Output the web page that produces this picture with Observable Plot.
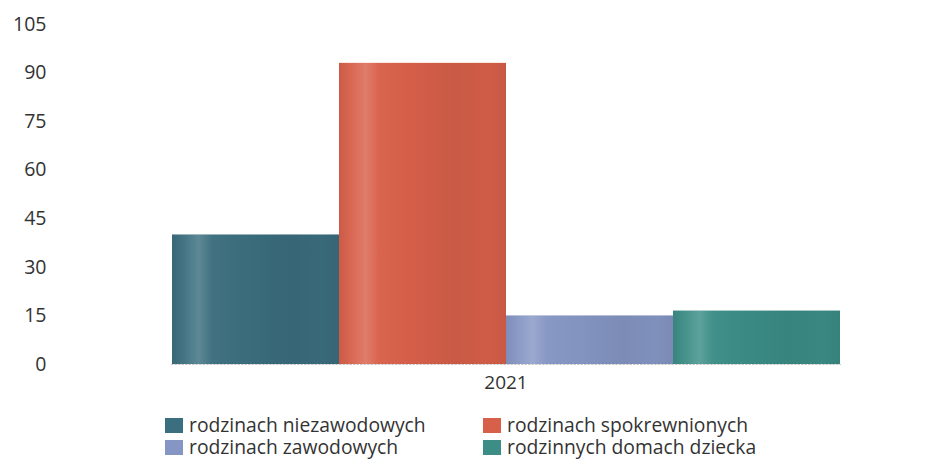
<!DOCTYPE html>
<html>
<head>
<meta charset="utf-8">
<script src="https://cdn.jsdelivr.net/npm/d3@7"></script>
<script src="https://cdn.jsdelivr.net/npm/@observablehq/plot@0.6"></script>
<style>
  html, body { margin: 0; padding: 0; background: #fff; }
  body { width: 932px; height: 464px; overflow: hidden; font-family: "Open Sans", sans-serif; }
  #legend {
    display: grid;
    grid-template-columns: 318px auto;
    row-gap: 0;
    padding-left: 165px;
    margin-top: 14px;
    font-size: 19.3px;
    color: #333;
    line-height: 22px;
  }
  .item { display: flex; align-items: center; white-space: nowrap; }
  .sw { width: 18px; height: 15px; margin-right: 6px; display: inline-block; }
</style>
</head>
<body>
<div id="chart"></div>
<div id="legend"></div>
<script>
const years = ["2021"];
const series = [
  "rodzinach niezawodowych",
  "rodzinach spokrewnionych",
  "rodzinach zawodowych",
  "rodzinnych domach dziecka"
];
const values = [40, 93, 15, 16.5];
const colors = ["#3b6e7e", "#d8604a", "#8596c4", "#3b8d86"];
const yTicks = [0, 15, 30, 45, 60, 75, 90, 105];
const legendOrder = [
  "rodzinach niezawodowych", "rodzinach spokrewnionych",
  "rodzinach zawodowych", "rodzinnych domach dziecka"
];

const data = series.map((s, i) => ({year: years[0], series: s, value: values[i]}));

const chart = Plot.plot({
  width: 932,
  height: 400,
  marginLeft: 63,
  marginRight: 55,
  marginTop: 24,
  marginBottom: 36,
  style: {fontFamily: "Open Sans, sans-serif", fontSize: "19.5px", color: "#333", background: "#fff"},
  fx: {domain: years, padding: 0.178, align: 0.745, label: null},
  x: {domain: series, padding: 0, axis: null},
  y: {domain: [0, 105], ticks: yTicks, label: null},
  color: {domain: series, range: colors},
  marks: [
    Plot.axisY({anchor: "left", ticks: yTicks, tickSize: 0, tickPadding: 125, label: null, fontSize: 19.5}),
    Plot.axisFx({anchor: "bottom", tickSize: 0, tickPadding: 11, label: null, fontSize: 19}),
    Plot.frame({anchor: "bottom", stroke: "#c8c8c8", strokeDasharray: "1.5,2", facet: "super"}),
    Plot.barY(data, {fx: "year", x: "series", y: "value", fill: "series"}),
    Plot.barY(data, {fx: "year", x: "series", y: "value", fill: "url(#shine)"})
  ]
});

// cylinder-like shading gradient
const svg = d3.select(chart);
const defs = svg.insert("defs", ":first-child");
const g = defs.append("linearGradient").attr("id", "shine")
  .attr("x1", "0").attr("x2", "1").attr("y1", "0").attr("y2", "0");
[
  [0, "#000", 0.06], [0.08, "#fff", 0.06], [0.16, "#fff", 0.18], [0.24, "#fff", 0.03],
  [0.45, "#000", 0.02], [0.7, "#000", 0.07], [0.9, "#000", 0.04], [1, "#000", 0.08]
].forEach(([o, c, a]) => g.append("stop").attr("offset", o).attr("stop-color", c).attr("stop-opacity", a));

document.getElementById("chart").appendChild(chart);

const color = chart.scale("color");
const legend = document.getElementById("legend");
legendOrder.forEach(s => {
  const item = document.createElement("div");
  item.className = "item";
  const sw = document.createElement("span");
  sw.className = "sw";
  sw.style.background = color.apply(s);
  item.appendChild(sw);
  item.appendChild(document.createTextNode(s));
  legend.appendChild(item);
});
</script>
</body>
</html>
